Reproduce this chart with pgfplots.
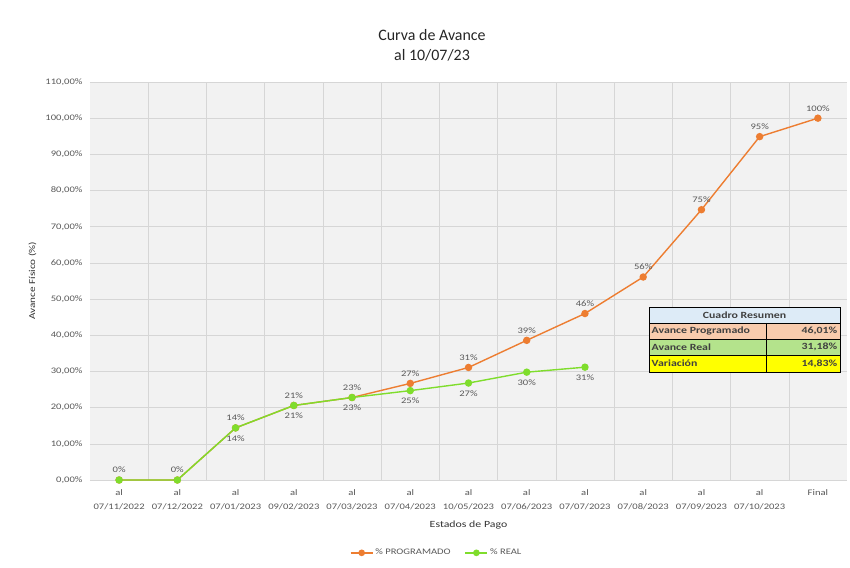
\documentclass[border=0pt]{standalone}
\usepackage{pgfplots}
\pgfplotsset{compat=1.18}
\usepackage{fontspec}
\setmainfont{Carlito}
\newfontfamily\wf{Carlito}[FakeStretch=1.25]
\definecolor{orangeP}{HTML}{ED7D31}
\definecolor{greenR}{HTML}{7FDD2C}
\definecolor{gridc}{HTML}{D6D6D6}
\definecolor{txt}{HTML}{595959}
\definecolor{hdr}{HTML}{DDEBF7}
\definecolor{rowA}{HTML}{F8CBAD}
\definecolor{rowB}{HTML}{B4E38C}
\definecolor{rowC}{HTML}{FFFF00}
\definecolor{bgc}{HTML}{F2F2F2}
\begin{document}
\begin{tikzpicture}[x=1bp,y=1bp]
\useasboundingbox[fill=white] (-90,-88) rectangle (760,480);
\begin{axis}[
  scale only axis, width=757bp, height=398bp,
  xmin=-0.5, xmax=12.5, ymin=0, ymax=110,
  axis line style={draw=none},
  major tick length=0pt, minor tick length=0pt,
  xtick={0,...,12},
  xticklabels={{al\\07/11/2022},{al\\07/12/2022},{al\\07/01/2023},{al\\09/02/2023},{al\\07/03/2023},{al\\07/04/2023},{al\\10/05/2023},{al\\07/06/2023},{al\\07/07/2023},{al\\07/08/2023},{al\\07/09/2023},{al\\07/10/2023},{Final}},
  xticklabel style={align=center, font=\wf\fontsize{8.5}{14}\selectfont, text=txt, anchor=north, yshift=-6bp},
  minor xtick={0.5,1.5,...,11.5},
  ytick={0,10,...,110},
  yticklabel={\pgfmathprintnumber[fixed,fixed zerofill,precision=2,use comma]{\tick}\%},
  yticklabel style={font=\wf\fontsize{8.5}{9.5}\selectfont, text=txt, xshift=-4bp},
  /pgf/number format/assume math mode=true,
  ymajorgrids, xminorgrids,
  major grid style={gridc, line width=0.5pt},
  minor grid style={gridc, line width=0.5pt},
  axis background/.style={fill=bgc},
  xlabel={Estados de Pago},
  xlabel style={font=\wf\fontsize{9.5}{10}\selectfont, text=black!80, at={(axis description cs:0.5,0)}, anchor=north, yshift=-37bp},
  ylabel={Avance Físico (\%)},
  ylabel style={font=\wf\fontsize{9}{10}\selectfont, text=black!80, at={(axis description cs:0,0.5)}, anchor=south, yshift=50bp},
  legend style={draw=none, fill=none, at={(axis description cs:0.458,-0.183)}, anchor=center, legend columns=2, font=\wf\fontsize{8.5}{9}\selectfont, text=txt, /tikz/every even column/.append style={column sep=12bp}},
  legend image code/.code={\draw[#1] (0bp,0bp) -- (22bp,0bp); \fill[#1] (11bp,0bp) circle (2.6bp);},
  clip=false,
]
\addplot[orangeP, line width=1.4pt, mark=*, mark size=3pt,
  nodes near coords={\pgfmathprintnumber[fixed,precision=0]{\pgfplotspointmeta}\%},
  point meta=y,
  every node near coord/.append style={font=\wf\fontsize{8.5}{9}\selectfont, text=txt, anchor=south, yshift=3bp}]
  coordinates {(0,0) (1,0) (2,14.4) (3,20.6) (4,22.8) (5,26.7) (6,31.1) (7,38.6) (8,46.01) (9,56.1) (10,74.7) (11,94.9) (12,100)};
\addlegendentry{\% PROGRAMADO}
\addplot[greenR, line width=1.4pt, mark=*, mark size=3pt]
  coordinates {(0,0) (1,0) (2,14.4) (3,20.6) (4,22.8) (5,24.7) (6,26.8) (7,29.8) (8,31.18)};
\addlegendentry{\% REAL}
\addplot[draw=none, mark=none, forget plot,
  nodes near coords={\pgfmathprintnumber[fixed,precision=0]{\pgfplotspointmeta}\%},
  point meta=y,
  every node near coord/.append style={font=\wf\fontsize{8.5}{9}\selectfont, text=txt, anchor=north, yshift=-4bp}]
  coordinates {(2,14.4) (3,20.6) (4,22.8) (5,24.7) (6,26.8) (7,29.8) (8,31.18)};
\end{axis}
% title
\node[align=center, font=\fontsize{16}{20}\selectfont, text=black!85] at (342,435) {Curva de Avance\\al 10/07/23};
% summary table
\begin{scope}[font=\wf\bfseries\fontsize{9.5}{10}\selectfont]
\fill[hdr]  (559,173) rectangle (750,157);
\fill[rowA] (559,157) rectangle (750,141);
\fill[rowB] (559,141) rectangle (750,125);
\fill[rowC] (559,125) rectangle (750,108);
\draw[black, line width=0.8pt] (559,173) rectangle (750,108);
\draw[black, line width=0.5pt] (559,157) -- (750,157) (559,141) -- (750,141) (559,125) -- (750,125) (676,157) -- (676,108);
\node[text=black!75] at (654.5,165) {Cuadro Resumen};
\node[anchor=west, text=black!75, inner sep=1.5bp] at (560,149) {Avance Programado};
\node[anchor=east, text=black!75, inner sep=1.5bp] at (749,149) {46,01\%};
\node[anchor=west, text=black!75, inner sep=1.5bp] at (560,133) {Avance Real};
\node[anchor=east, text=black!75, inner sep=1.5bp] at (749,133) {31,18\%};
\node[anchor=west, text=black!75, inner sep=1.5bp] at (560,116.5) {Variación};
\node[anchor=east, text=black!75, inner sep=1.5bp] at (749,116.5) {14,83\%};
\end{scope}
\end{tikzpicture}
\end{document}
